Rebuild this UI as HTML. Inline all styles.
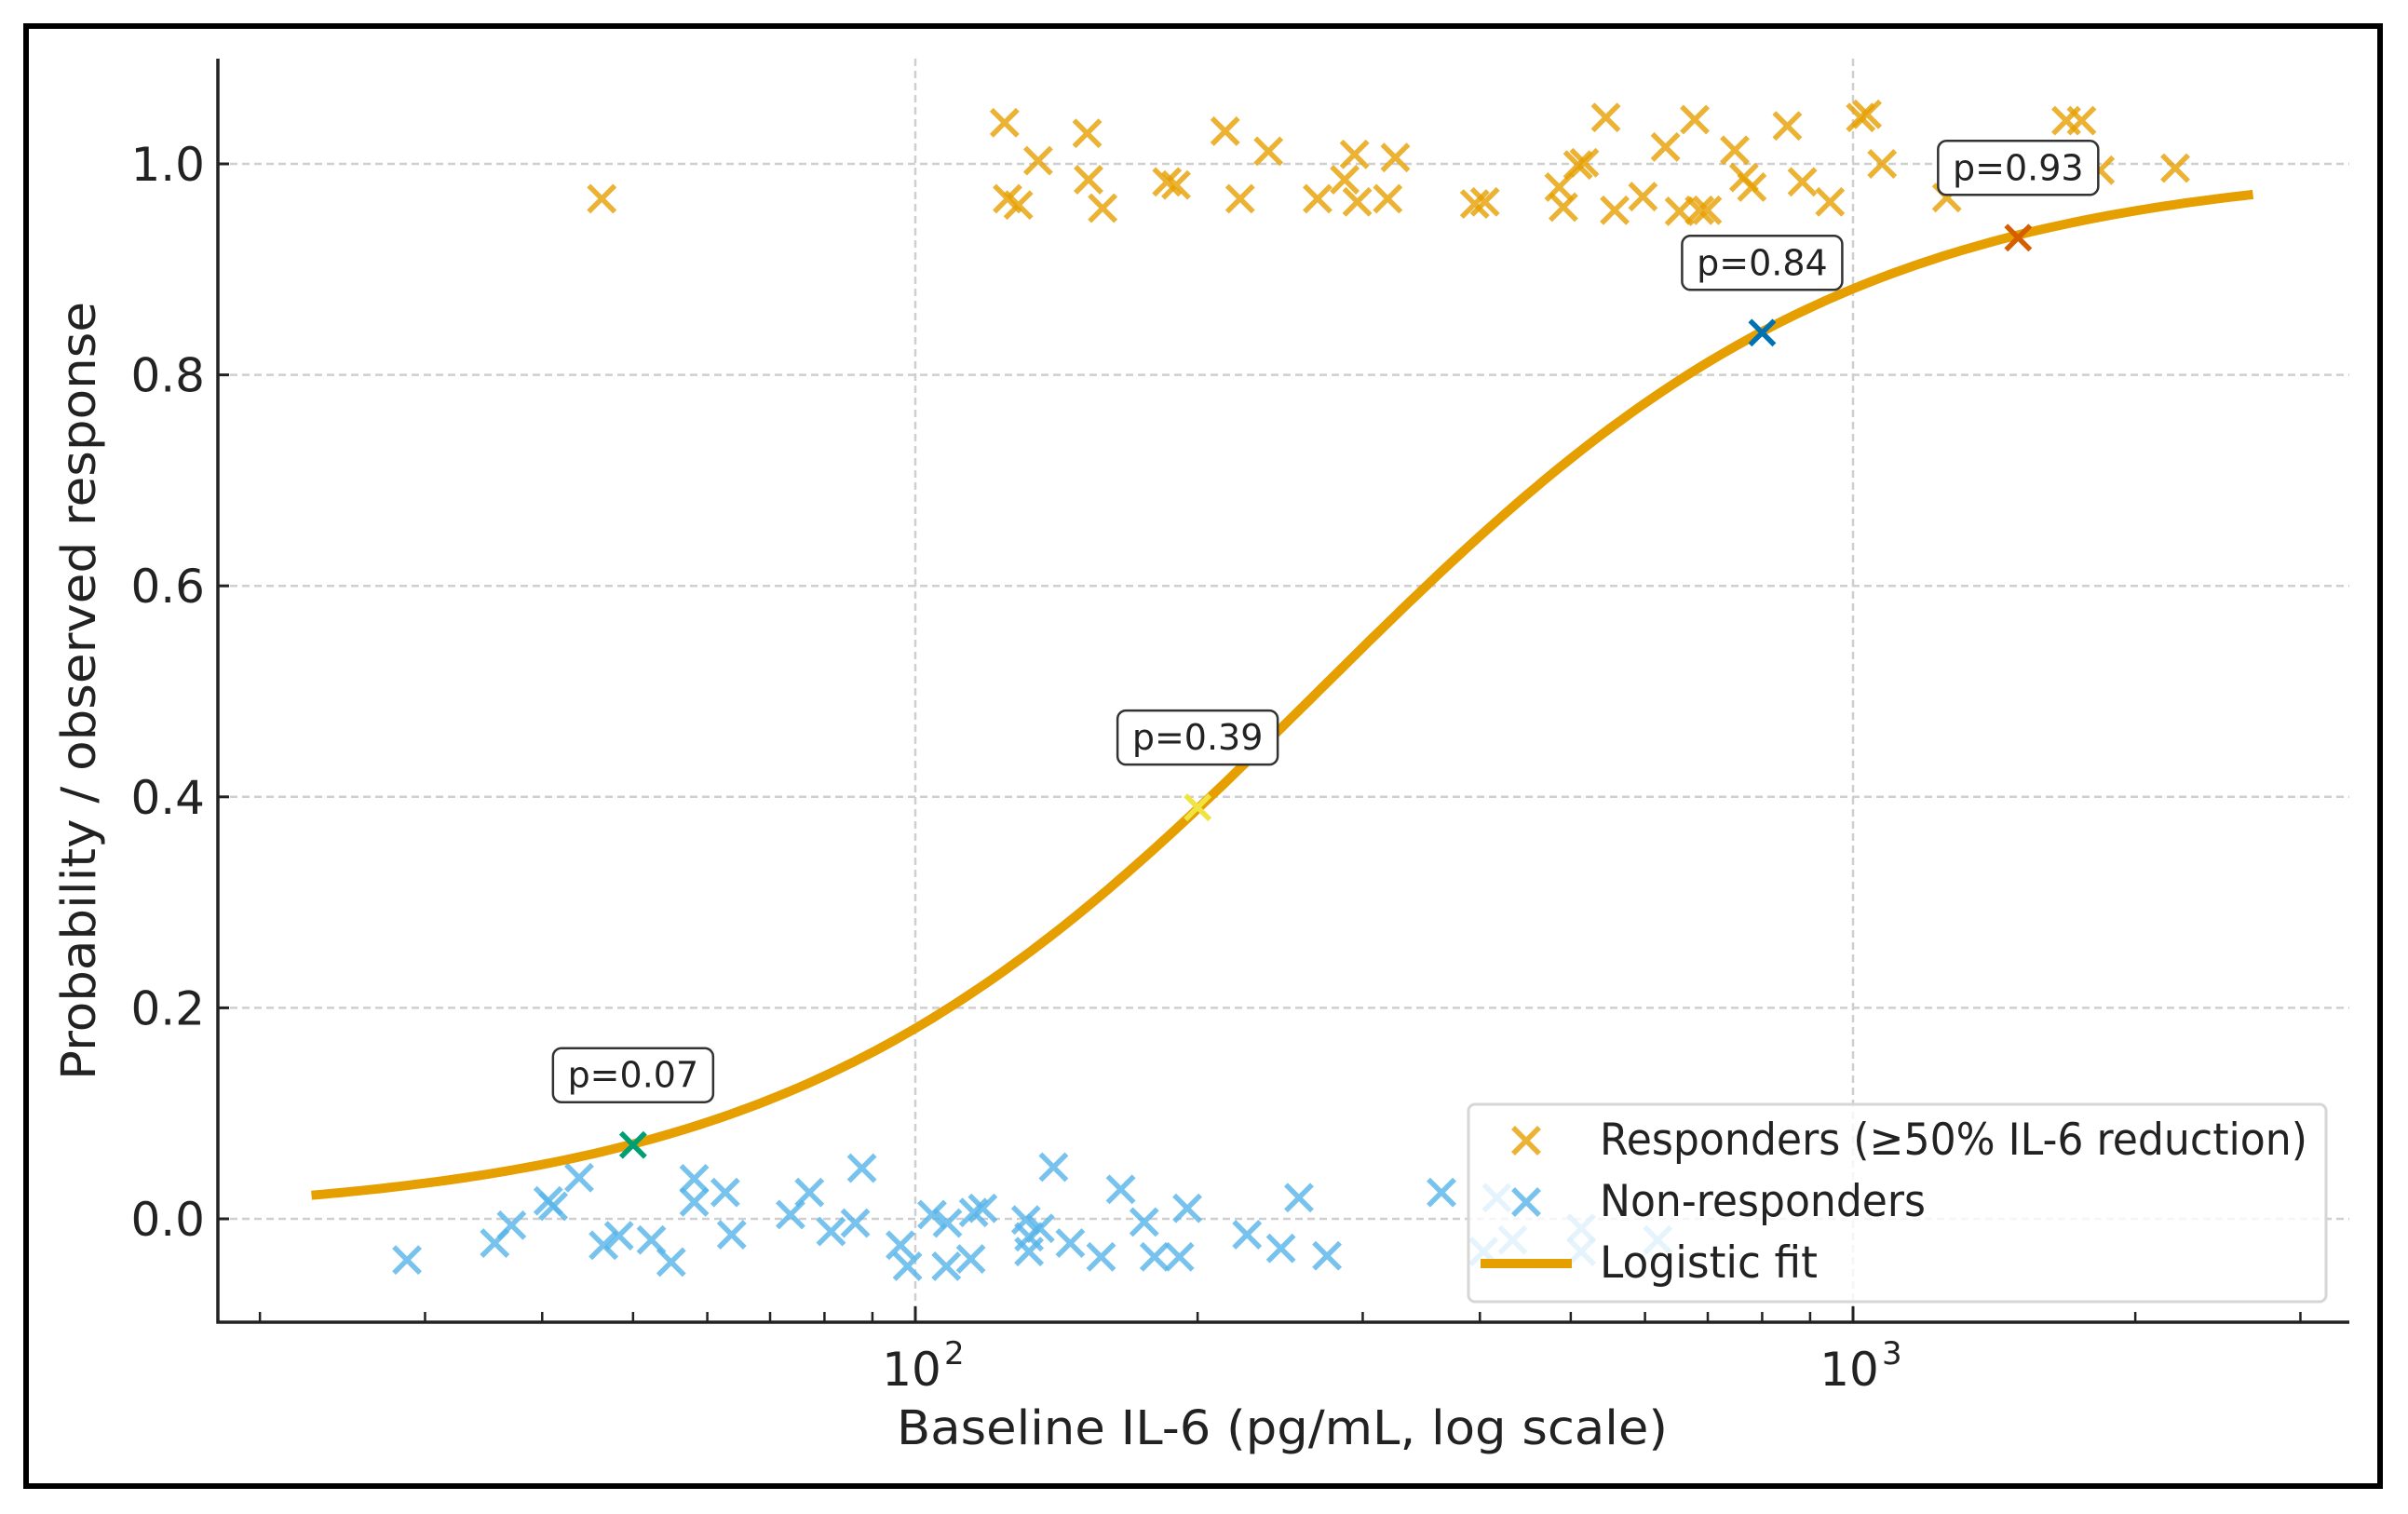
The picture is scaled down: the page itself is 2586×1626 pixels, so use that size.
<!DOCTYPE html>
<html><head><meta charset="utf-8"><style>
html,body{margin:0;padding:0;background:#fff;}
svg{display:block;font-family:"DejaVu Sans","Liberation Sans",sans-serif;}
</style></head><body>
<svg id="chart" width="2586" height="1626" viewBox="0 0 2586 1626" xmlns="http://www.w3.org/2000/svg">
<rect x="28" y="28" width="2528" height="1568" fill="#fff" stroke="#000" stroke-width="6"/>
<g id="grid"></g>
<g id="pts"></g>
<g id="curve"></g>
<g id="ann"></g>
<g id="axes"></g>
<g id="legend"></g>
</svg>
<script>
const respX=[46.3,124.5,125.4,128.8,135.2,152.5,153,158.4,185.5,189.7,214,222,238,268.5,287,294,296,319,325,395,405,486,491,509,517,545,557,597,631,653,678,686,699,748,765,780,851,883,945,1019,1035,1074,1259,1688,1753,1834,2206];
const respY=[0.967,1.039,0.967,0.961,1.003,1.029,0.985,0.958,0.983,0.980,1.031,0.967,1.012,0.967,0.985,1.009,0.964,0.967,1.006,0.962,0.964,0.978,0.959,0.999,1.001,1.044,0.956,0.969,1.016,0.955,1.042,0.956,0.956,1.013,0.987,0.978,1.036,0.983,0.964,1.044,1.047,1.0,0.968,1.041,1.041,0.994,0.996];
const nonX=[28.7,35.6,37.1,40.6,41.1,43.8,46.5,48.3,52.3,54.9,58.1,58.1,62.7,63.7,73.6,77.1,81.3,86.3,87.7,96.4,98.1,104.2,108.2,107.9,114.6,115.4,118,131.2,132.2,132.2,135.8,140.4,146.3,157.8,165.6,175.4,179.9,191.3,195,225.8,245.4,256.5,274.8,364,403.6,417,433.5,513,513,619];
const nonY=[-0.039,-0.023,-0.006,0.017,0.012,0.039,-0.025,-0.016,-0.020,-0.041,0.038,0.016,0.025,-0.015,0.004,0.025,-0.012,-0.004,0.048,-0.025,-0.045,0.004,-0.004,-0.045,-0.038,0.006,0.010,-0.001,-0.017,-0.031,-0.009,0.049,-0.023,-0.036,0.028,-0.003,-0.036,-0.036,0.010,-0.015,-0.028,0.020,-0.035,0.025,-0.031,0.020,-0.020,-0.009,-0.031,-0.020];
const fitParams=[3.52,269];
const fitRange=[22.7,2670];
const annX=[50,200,800,1500];
const annP=[0.07,0.39,0.84,0.93];
const annLabels=["p=0.07","p=0.39","p=0.84","p=0.93"];
const annColors=["#009E73","#F0E442","#0072B2","#D55E00"];
const yTicks=[0,0.2,0.4,0.6,0.8,1.0];
const yTickLabels=["0.0","0.2","0.4","0.6","0.8","1.0"];
const xMajor=[100,1000];
const xMinor=[20,30,40,50,60,70,80,90,200,300,400,500,600,700,800,900,2000,3000];

const NS="http://www.w3.org/2000/svg";
const L=234,R=2523,T=63,B=1420;
const X0=983,DEC=1007;
const sx=v=>X0+(Math.log10(v)-2)*DEC;
const Y1=176,Y0=1309;
const sy=v=>Y0+(Y1-Y0)*v;
function mk(tag,attrs,parent){const e=document.createElementNS(NS,tag);for(const k in attrs)e.setAttribute(k,attrs[k]);parent.appendChild(e);return e;}
const grid=document.getElementById('grid'),pts=document.getElementById('pts'),curve=document.getElementById('curve'),ann=document.getElementById('ann'),axes=document.getElementById('axes'),legend=document.getElementById('legend');

yTicks.forEach((t,i)=>{
  const g=mk('line',{x1:L,x2:R,y1:sy(t),y2:sy(t),stroke:'#cfcfcf','stroke-width':2.5,'stroke-dasharray':'8,5'},grid);
  
  
  const tk=mk('line',{x1:L,x2:L+12,y1:sy(t),y2:sy(t),stroke:'#222','stroke-width':3},axes);
  
  
  const tx=mk('text',{x:L-14,y:sy(t)+18,'text-anchor':'end','font-size':50,fill:'#222'},axes);
  tx.textContent=yTickLabels[i];
  
  
});
xMajor.forEach((t,i)=>{
  const g=mk('line',{x1:sx(t),x2:sx(t),y1:T,y2:B,stroke:'#cfcfcf','stroke-width':2.5,'stroke-dasharray':'8,5'},grid);
  
  
  const tk=mk('line',{x1:sx(t),x2:sx(t),y1:B,y2:B-17,stroke:'#222','stroke-width':3},axes);
  
  
  const tx=mk('text',{x:sx(t)-4,y:B+68,'text-anchor':'middle','font-size':50,fill:'#222'},axes);
  tx.textContent='10';
  
  
  const sp=mk('text',{x:sx(t)+31,y:B+45,'font-size':34,fill:'#222'},axes);
  sp.textContent=String(Math.round(Math.log10(t)));
  
  
});
xMinor.forEach(t=>{
  const x=sx(t); if(x<L||x>R)return;
  const tk=mk('line',{x1:x,x2:x,y1:B,y2:B-11,stroke:'#222','stroke-width':2.5},axes);
  
  
});
const ax1=mk('line',{x1:L,x2:L,y1:T,y2:B+1.5,stroke:'#222','stroke-width':3.5},axes);


const ax2=mk('line',{x1:L-1.5,x2:R,y1:B,y2:B,stroke:'#222','stroke-width':3.5},axes);


const xt=mk('text',{x:1377,y:1551,'text-anchor':'middle','font-size':51,fill:'#222',textLength:828,lengthAdjust:'spacingAndGlyphs'},axes);
xt.textContent='Baseline IL-6 (pg/mL, log scale)';


const yt=mk('text',{x:0,y:0,'text-anchor':'middle','font-size':51,fill:'#222',transform:'translate(102,742) rotate(-90)',textLength:836,lengthAdjust:'spacingAndGlyphs'},axes);
yt.textContent='Probability / observed response';



function cross(x,y,color,parent,size,w){
  const s=size||14;
  const d=`M${x-s},${y-s}L${x+s},${y+s}M${x-s},${y+s}L${x+s},${y-s}`;
  return mk('path',{d:d,stroke:color,'stroke-width':w||5.5,fill:'none'},parent);
}
nonX.forEach((v,i)=>{
  const p=cross(sx(v),sy(nonY[i]),'rgba(86,180,233,0.8)',pts);
  
  
});
respX.forEach((v,i)=>{
  const p=cross(sx(v),sy(respY[i]),'rgba(230,159,0,0.8)',pts);
  
  
});
const fit=x=>1/(1+Math.exp(-fitParams[0]*(Math.log10(x)-Math.log10(fitParams[1]))));
let d='';
const a=Math.log10(fitRange[0]),b=Math.log10(fitRange[1]);
for(let i=0;i<=200;i++){const lx=a+(b-a)*i/200;const x=Math.pow(10,lx);d+=(i?'L':'M')+sx(x).toFixed(1)+','+sy(fit(x)).toFixed(1);}
const cp=mk('path',{d:d,stroke:'#E69F00','stroke-width':10,fill:'none','stroke-linejoin':'round'},curve);



annX.forEach((v,i)=>{
  const x=sx(v),y=sy(annP[i]);
  const m=cross(x,y,annColors[i],ann,13,5.5);
  
  
  const bx=x,by=y-75;
  const r=mk('rect',{x:bx-86,y:by-29,width:172,height:58,rx:9,fill:'#fff',stroke:'#333','stroke-width':2.5},ann);
  
  
  const t=mk('text',{x:bx,y:by+13,'text-anchor':'middle','font-size':38,fill:'#222'},ann);
  t.textContent=annLabels[i];
  
  
});

const lb=mk('rect',{x:1577,y:1186,width:921,height:212,rx:7,fill:'rgba(255,255,255,0.8)',stroke:'#d6d6d6','stroke-width':3},legend);


const e1=cross(1639,1225,'rgba(230,159,0,0.8)',legend);


const e2=cross(1639,1291,'rgba(86,180,233,0.8)',legend);


const e3=mk('line',{x1:1590,x2:1688,y1:1357,y2:1357,stroke:'#E69F00','stroke-width':10},legend);


[["Responders (≥50% IL-6 reduction)",1224,760],["Non-responders",1290,350],["Logistic fit",1356,234]].forEach(([s,y,w])=>{
  const t=mk('text',{x:1718,y:y+16,'font-size':47,fill:'#222',textLength:w,lengthAdjust:'spacingAndGlyphs'},legend);
  t.textContent=s;
  
  
});
</script>
</body></html>
